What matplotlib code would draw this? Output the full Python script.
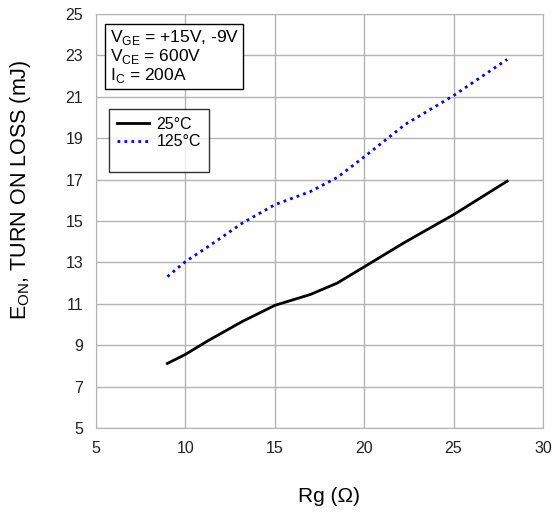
import numpy as np
import matplotlib
matplotlib.use('Agg')
import matplotlib.pyplot as plt
from matplotlib.lines import Line2D

plt.rcParams['font.family'] = ['Liberation Sans', 'DejaVu Sans']
plt.rcParams['mathtext.fontset'] = 'custom'
plt.rcParams['mathtext.rm'] = 'Liberation Sans'

# data
rg = [9, 10, 11.3, 13.2, 15, 17, 18.5, 20, 22.3, 25, 28]
eon_25 = [8.12, 8.55, 9.23, 10.15, 10.92, 11.45, 12.0, 12.78, 13.98, 15.3, 16.92]
eon_125 = [12.31, 13.03, 13.77, 14.9, 15.78, 16.42, 17.1, 18.09, 19.66, 21.05, 22.8]

fig = plt.figure(figsize=(5.54, 5.12), dpi=100)
ax = fig.add_axes([0.173, 0.164, 0.807, 0.809])

l1, = ax.plot(rg, eon_25, color='black', linewidth=2.0, solid_joinstyle='round')
l2, = ax.plot(rg, eon_125, color='blue', linewidth=2.0, linestyle=(0, (1, 1.5)))

ax.set_xlim(5, 30)
ax.set_ylim(5, 25)
ax.set_xticks(np.arange(5, 31, 5))
ax.set_yticks(np.arange(5, 26, 2))
ax.grid(True, color='#b4b4b4', linewidth=1)
ax.tick_params(length=0, labelsize=11.5, colors='#222222', pad=9)
for spine in ax.spines.values():
    spine.set_color('#b4b4b4')

ax.set_xlabel('Rg (Ω)', fontsize=15)
ax.xaxis.set_label_coords(0.521, -0.142)
ax.set_ylabel('E$_{\\mathregular{ON}}$, TURN ON LOSS (mJ)', fontsize=15.5)
ax.yaxis.set_label_coords(-0.14, 0.575)

ax.text(0.031, 0.966,
        'V$_{\\mathregular{GE}}$ = +15V, -9V\nV$_{\\mathregular{CE}}$ = 600V\nI$_{\\mathregular{C}}$ = 200A',
        transform=ax.transAxes, fontsize=12.5, va='top', ha='left', linespacing=1.0,
        bbox=dict(boxstyle='square,pad=0.25', facecolor='white', edgecolor='black', linewidth=1))

blank = Line2D([], [], linestyle='none')
leg = ax.legend([l1, l2, blank], ['25°C', '125°C', ''], loc='upper left',
                bbox_to_anchor=(0.029, 0.77), fontsize=11.5, frameon=True,
                fancybox=False, edgecolor='black', handlelength=2.0, borderpad=0.5,
                labelspacing=0.15, handletextpad=0.5, borderaxespad=0)
leg.get_frame().set_linewidth(1)
leg.get_texts()[2].set_fontsize(3)

fig.savefig('out.png', dpi=100)
